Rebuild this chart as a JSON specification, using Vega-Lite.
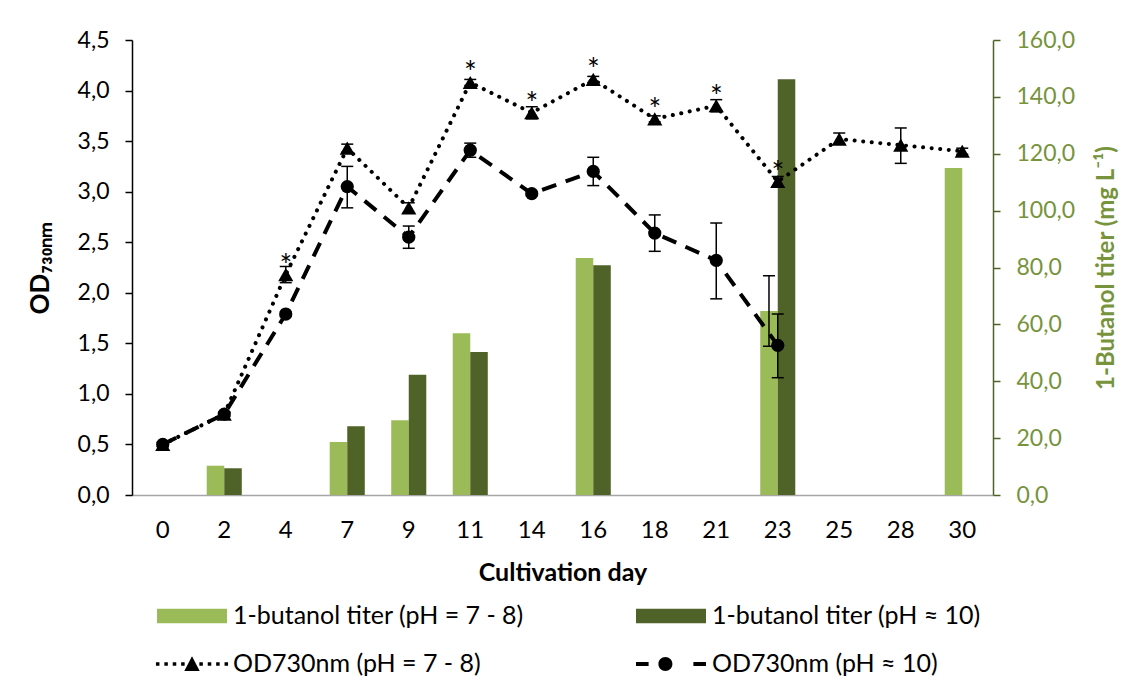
{
  "$schema": "https://vega.github.io/schema/vega-lite/v6.json",
  "width": 861,
  "height": 455,
  "autosize": {"type": "none"},
  "padding": {"left": 132, "top": 40, "right": 140, "bottom": 189},
  "config": {"view": {"stroke": null}, "font": "Lato", "axis": {"grid": false}},
  "datasets": {
    "od": [
      {"day": 0, "series": "OD730nm (pH = 7 - 8)", "od": 0.50, "lo": 0.48, "hi": 0.52, "sig": ""},
      {"day": 2, "series": "OD730nm (pH = 7 - 8)", "od": 0.80, "lo": 0.78, "hi": 0.82, "sig": ""},
      {"day": 4, "series": "OD730nm (pH = 7 - 8)", "od": 2.18, "lo": 2.10, "hi": 2.26, "sig": "*"},
      {"day": 7, "series": "OD730nm (pH = 7 - 8)", "od": 3.43, "lo": 3.39, "hi": 3.47, "sig": ""},
      {"day": 9, "series": "OD730nm (pH = 7 - 8)", "od": 2.84, "lo": 2.79, "hi": 2.89, "sig": ""},
      {"day": 11, "series": "OD730nm (pH = 7 - 8)", "od": 4.08, "lo": 4.05, "hi": 4.11, "sig": "*"},
      {"day": 14, "series": "OD730nm (pH = 7 - 8)", "od": 3.78, "lo": 3.72, "hi": 3.84, "sig": "*"},
      {"day": 16, "series": "OD730nm (pH = 7 - 8)", "od": 4.11, "lo": 4.08, "hi": 4.14, "sig": "*"},
      {"day": 18, "series": "OD730nm (pH = 7 - 8)", "od": 3.72, "lo": 3.69, "hi": 3.75, "sig": "*"},
      {"day": 21, "series": "OD730nm (pH = 7 - 8)", "od": 3.85, "lo": 3.79, "hi": 3.91, "sig": "*"},
      {"day": 23, "series": "OD730nm (pH = 7 - 8)", "od": 3.10, "lo": 3.05, "hi": 3.15, "sig": "*"},
      {"day": 25, "series": "OD730nm (pH = 7 - 8)", "od": 3.52, "lo": 3.47, "hi": 3.58, "sig": ""},
      {"day": 28, "series": "OD730nm (pH = 7 - 8)", "od": 3.46, "lo": 3.28, "hi": 3.63, "sig": ""},
      {"day": 30, "series": "OD730nm (pH = 7 - 8)", "od": 3.40, "lo": 3.37, "hi": 3.43, "sig": ""},
      {"day": 0, "series": "OD730nm (pH ≈ 10)", "od": 0.50, "lo": 0.48, "hi": 0.52, "sig": ""},
      {"day": 2, "series": "OD730nm (pH ≈ 10)", "od": 0.80, "lo": 0.78, "hi": 0.82, "sig": ""},
      {"day": 4, "series": "OD730nm (pH ≈ 10)", "od": 1.79, "lo": 1.77, "hi": 1.81, "sig": ""},
      {"day": 7, "series": "OD730nm (pH ≈ 10)", "od": 3.05, "lo": 2.84, "hi": 3.25, "sig": ""},
      {"day": 9, "series": "OD730nm (pH ≈ 10)", "od": 2.55, "lo": 2.44, "hi": 2.66, "sig": ""},
      {"day": 11, "series": "OD730nm (pH ≈ 10)", "od": 3.41, "lo": 3.34, "hi": 3.48, "sig": ""},
      {"day": 14, "series": "OD730nm (pH ≈ 10)", "od": 2.98, "lo": 2.96, "hi": 3.00, "sig": ""},
      {"day": 16, "series": "OD730nm (pH ≈ 10)", "od": 3.20, "lo": 3.06, "hi": 3.34, "sig": ""},
      {"day": 18, "series": "OD730nm (pH ≈ 10)", "od": 2.59, "lo": 2.41, "hi": 2.77, "sig": ""},
      {"day": 21, "series": "OD730nm (pH ≈ 10)", "od": 2.32, "lo": 1.94, "hi": 2.69, "sig": ""},
      {"day": 23, "series": "OD730nm (pH ≈ 10)", "od": 1.48, "lo": 1.16, "hi": 1.79, "sig": ""}
    ],
    "bars": [
      {"day": 2, "series": "1-butanol titer (pH = 7 - 8)", "titer": 10.3},
      {"day": 2, "series": "1-butanol titer (pH ≈ 10)", "titer": 9.4},
      {"day": 7, "series": "1-butanol titer (pH = 7 - 8)", "titer": 18.6},
      {"day": 7, "series": "1-butanol titer (pH ≈ 10)", "titer": 24.2},
      {"day": 9, "series": "1-butanol titer (pH = 7 - 8)", "titer": 26.3},
      {"day": 9, "series": "1-butanol titer (pH ≈ 10)", "titer": 42.3},
      {"day": 11, "series": "1-butanol titer (pH = 7 - 8)", "titer": 56.9},
      {"day": 11, "series": "1-butanol titer (pH ≈ 10)", "titer": 50.3},
      {"day": 16, "series": "1-butanol titer (pH = 7 - 8)", "titer": 83.3},
      {"day": 16, "series": "1-butanol titer (pH ≈ 10)", "titer": 80.8},
      {"day": 23, "series": "1-butanol titer (pH = 7 - 8)", "titer": 64.7, "lo": 52.3, "hi": 77.1},
      {"day": 23, "series": "1-butanol titer (pH ≈ 10)", "titer": 146.2},
      {"day": 30, "series": "1-butanol titer (pH = 7 - 8)", "titer": 115.0}
    ]
  },
  "encoding": {
    "x": {
      "field": "day",
      "type": "ordinal",
      "scale": {"paddingInner": 0.43, "paddingOuter": 0.215},
      "axis": {
        "title": "Cultivation day",
        "titleFontSize": 25,
        "titleFontWeight": "bold",
        "titleColor": "black",
        "titlePadding": 18,
        "labelFontSize": 24,
        "labelColor": "black",
        "labelAngle": 0,
        "labelPadding": 23,
        "ticks": false,
        "domainColor": "#A6A6A6",
        "domainWidth": 1.5
      }
    }
  },
  "layer": [
    {
      "data": {"name": "bars"},
      "layer": [
        {
          "mark": {"type": "bar"},
          "encoding": {
            "xOffset": {"field": "series", "type": "nominal", "scale": {"domain": ["1-butanol titer (pH = 7 - 8)", "1-butanol titer (pH ≈ 10)"]}},
            "y": {
              "field": "titer",
              "type": "quantitative",
              "scale": {"domain": [0, 160], "nice": false},
              "axis": {
                "orient": "right",
                "values": [0, 20, 40, 60, 80, 100, 120, 140, 160],
                "labelExpr": "replace(format(datum.value, '.1f'), '.', ',')",
                "labelFontSize": 23,
                "labelColor": "#77933C",
                "labelPadding": 16,
                "tickSize": 7,
                "tickColor": "#4F6228",
                "tickWidth": 1.5,
                "domainColor": "#4F6228",
                "domainWidth": 1.5,
                "title": "1-Butanol titer (mg L⁻¹)",
                "titleAngle": 270,
                "titleFontSize": 24,
                "titleFontWeight": "bold",
                "titleColor": "#77933C",
                "titlePadding": 44
              }
            },
            "fill": {
              "field": "series",
              "type": "nominal",
              "scale": {
                "domain": ["1-butanol titer (pH = 7 - 8)", "1-butanol titer (pH ≈ 10)"],
                "range": ["#9BBB59", "#4F6228"]
              },
              "legend": null
            }
          }
        },
        {
          "transform": [{"filter": "isValid(datum.hi)"}],
          "mark": {"type": "rule", "color": "black", "strokeWidth": 1.5},
          "encoding": {
            "xOffset": {"field": "series", "type": "nominal"},
            "y": {"field": "lo", "type": "quantitative"},
            "y2": {"field": "hi"}
          }
        },
        {
          "transform": [{"filter": "isValid(datum.hi)"}],
          "mark": {"type": "tick", "color": "black", "size": 12, "thickness": 1.5, "opacity": 1},
          "encoding": {
            "xOffset": {"field": "series", "type": "nominal"},
            "y": {"field": "lo", "type": "quantitative"}
          }
        },
        {
          "transform": [{"filter": "isValid(datum.hi)"}],
          "mark": {"type": "tick", "color": "black", "size": 12, "thickness": 1.5, "opacity": 1},
          "encoding": {
            "xOffset": {"field": "series", "type": "nominal"},
            "y": {"field": "hi", "type": "quantitative"}
          }
        }
      ]
    },
    {
      "data": {"name": "od"},
      "layer": [
        {
          "transform": [{"filter": "datum.series == 'OD730nm (pH = 7 - 8)'"}],
          "mark": {"type": "line", "color": "black", "strokeWidth": 4, "strokeDash": [0.1, 8.5], "strokeCap": "round"},
          "encoding": {
            "y": {
              "field": "od",
              "type": "quantitative",
              "scale": {"domain": [0, 4.5], "nice": false},
              "axis": {
                "orient": "left",
                "values": [0, 0.5, 1, 1.5, 2, 2.5, 3, 3.5, 4, 4.5],
                "labelExpr": "replace(format(datum.value, '.1f'), '.', ',')",
                "labelFontSize": 23,
                "labelColor": "black",
                "labelPadding": 16,
                "tickSize": 7,
                "tickColor": "black",
                "tickWidth": 1.5,
                "domainColor": "black",
                "domainWidth": 1.5,
                "title": "OD₇₃₀ₙₘ",
                "titleFontSize": 26,
                "titleFontWeight": "bold",
                "titleColor": "black",
                "titlePadding": 24
              }
            }
          }
        },
        {
          "transform": [{"filter": "datum.series == 'OD730nm (pH ≈ 10)'"}],
          "mark": {"type": "line", "color": "black", "strokeWidth": 4, "strokeDash": [15, 10]},
          "encoding": {"y": {"field": "od", "type": "quantitative"}}
        },
        {
          "mark": {"type": "rule", "color": "black", "strokeWidth": 1.5},
          "encoding": {
            "y": {"field": "lo", "type": "quantitative"},
            "y2": {"field": "hi"}
          }
        },
        {
          "mark": {"type": "tick", "color": "black", "size": 12, "thickness": 1.5, "opacity": 1},
          "encoding": {"y": {"field": "lo", "type": "quantitative"}}
        },
        {
          "mark": {"type": "tick", "color": "black", "size": 12, "thickness": 1.5, "opacity": 1},
          "encoding": {"y": {"field": "hi", "type": "quantitative"}}
        },
        {
          "transform": [{"filter": "datum.series == 'OD730nm (pH = 7 - 8)'"}],
          "mark": {"type": "point", "filled": true, "color": "black", "opacity": 1, "size": 230, "shape": "triangle-up"},
          "encoding": {"y": {"field": "od", "type": "quantitative"}}
        },
        {
          "transform": [{"filter": "datum.series == 'OD730nm (pH ≈ 10)'"}],
          "mark": {"type": "point", "filled": true, "color": "black", "opacity": 1, "size": 175, "shape": "circle"},
          "encoding": {"y": {"field": "od", "type": "quantitative"}}
        },
        {
          "transform": [{"filter": "datum.sig == '*'"}],
          "mark": {"type": "text", "color": "black", "fontSize": 30, "baseline": "alphabetic", "dy": 1},
          "encoding": {
            "y": {"field": "od", "type": "quantitative"},
            "text": {"field": "sig"}
          }
        },
        {
          "transform": [{"filter": "datum.day == 0"}],
          "mark": {"type": "point", "filled": true, "opacity": 0, "strokeWidth": 0},
          "encoding": {
            "y": {"field": "od", "type": "quantitative"},
            "color": {
              "field": "series",
              "type": "nominal",
              "scale": {
                "domain": ["1-butanol titer (pH = 7 - 8)", "1-butanol titer (pH ≈ 10)", "OD730nm (pH = 7 - 8)", "OD730nm (pH ≈ 10)"],
                "range": ["#9BBB59", "#4F6228", "#000000", "#000000"]
              },
              "legend": {
                "orient": "none",
                "legendX": 25,
                "legendY": 541,
                "columns": 2,
                "direction": "horizontal",
                "title": null,
                "symbolSize": 4900,
                "symbolStrokeWidth": 0,
                "symbolOpacity": 1,
                "labelFontSize": 25,
                "labelColor": "black",
                "labelOffset": 6,
                "labelLimit": 400,
                "columnPadding": 112,
                "rowPadding": -24
              }
            },
            "shape": {
              "field": "series",
              "type": "nominal",
              "scale": {
                "domain": ["1-butanol titer (pH = 7 - 8)", "1-butanol titer (pH ≈ 10)", "OD730nm (pH = 7 - 8)", "OD730nm (pH ≈ 10)"],
                "range": [
                  "M-1,-0.21H1V0.21H-1Z",
                  "M-1,-0.21H1V0.21H-1Z",
                  "M-1.03,-0.05h0.1v0.1h-0.1ZM-0.79,-0.05h0.1v0.1h-0.1ZM-0.55,-0.05h0.1v0.1h-0.1ZM-0.31,-0.05h0.1v0.1h-0.1ZM0.21,-0.05h0.1v0.1h-0.1ZM0.45,-0.05h0.1v0.1h-0.1ZM0.69,-0.05h0.1v0.1h-0.1ZM0.93,-0.05h0.1v0.1h-0.1ZM0,-0.22L0.22,0.2L-0.22,0.2Z",
                  "M-1,-0.06H-0.64V0.06H-1ZM0.64,-0.06H1V0.06H0.64ZM-0.36,0A0.2,0.2 0 1,0 0.04,0A0.2,0.2 0 1,0 -0.36,0Z"
                ]
              },
              "legend": {
                "orient": "none",
                "legendX": 25,
                "legendY": 541,
                "columns": 2,
                "direction": "horizontal",
                "title": null,
                "symbolSize": 4900,
                "symbolStrokeWidth": 0,
                "symbolOpacity": 1,
                "labelFontSize": 25,
                "labelColor": "black",
                "labelOffset": 6,
                "labelLimit": 400,
                "columnPadding": 112,
                "rowPadding": -24
              }
            }
          }
        }
      ]
    }
  ],
  "resolve": {"scale": {"y": "independent"}}
}
